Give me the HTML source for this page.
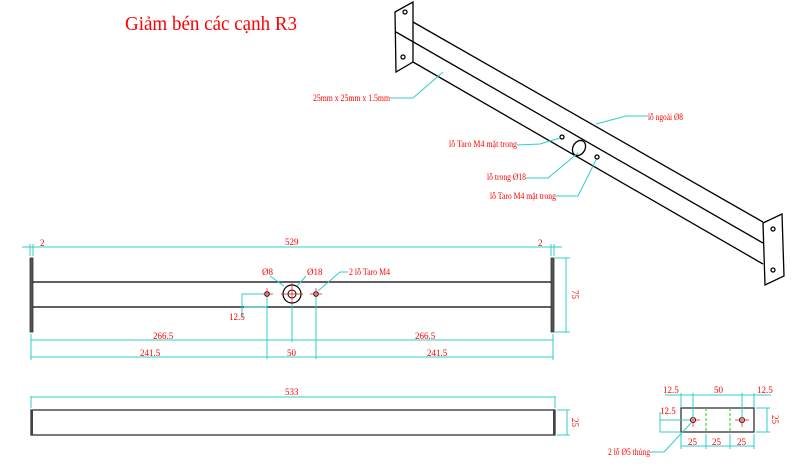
<!DOCTYPE html>
<html><head><meta charset="utf-8"><style>
html,body{margin:0;padding:0;background:#fff;width:800px;height:470px;overflow:hidden}
text{font-family:"Liberation Serif",serif;fill:#f00}
</style></head><body>
<svg width="800" height="470" viewBox="0 0 800 470" xmlns="http://www.w3.org/2000/svg">
<text x="125" y="30" font-size="20" textLength="172" lengthAdjust="spacingAndGlyphs">Giảm bén các cạnh R3</text>
<!-- iso view -->
<g stroke="#000" stroke-width="1.3" fill="none">
<polygon points="395,12 413,2 413,62 396,72" fill="#fff"/>
<line x1="413" y1="22" x2="763" y2="222"/>
<line x1="396" y1="32" x2="763" y2="243"/>
<line x1="413" y1="62" x2="763" y2="264"/>
<polygon points="763,223 782,214 784,276 765,285" fill="#fff"/>
<circle cx="405" cy="12" r="2"/><circle cx="403" cy="57" r="2"/>
<circle cx="773" cy="229" r="2"/><circle cx="773" cy="270" r="2"/>
<circle cx="562" cy="137" r="2"/>
<ellipse cx="579" cy="148" rx="6" ry="8" transform="rotate(30 579 148)"/>
<circle cx="597" cy="157" r="2"/>
</g>
<g stroke="#3cc" stroke-width="1" fill="none">
<polyline points="390,98 413,98 443,72"/>
<polyline points="517,145 540,144 560,138"/>
<polyline points="526,178 548,178 578,153"/>
<polyline points="556,196 578,196 596,160"/>
<polyline points="596,124 626,116 648,116"/>
</g>
<g font-size="9">
<text x="313" y="101" textLength="77" lengthAdjust="spacingAndGlyphs">25mm x 25mm x 1.5mm</text>
<text x="449" y="147" textLength="68" lengthAdjust="spacingAndGlyphs">lỗ Taro M4 mặt trong</text>
<text x="487" y="180" textLength="39" lengthAdjust="spacingAndGlyphs">lỗ trong Ø18</text>
<text x="490" y="199" textLength="66" lengthAdjust="spacingAndGlyphs">lỗ Taro M4 mặt trong</text>
<text x="648" y="120" textLength="35" lengthAdjust="spacingAndGlyphs">lỗ ngoài Ø8</text>
</g>
<!-- front view -->
<g stroke="#000">
<rect x="30" y="258" width="3" height="74" fill="#555" stroke="#333" stroke-width="0.8"/>
<rect x="551" y="258" width="3" height="74" fill="#555" stroke="#333" stroke-width="0.8"/>
<line x1="33" y1="282" x2="551" y2="282" stroke-width="1.2"/>
<line x1="33" y1="307" x2="551" y2="307" stroke-width="1.2"/>
<circle cx="292" cy="294" r="9" fill="none" stroke-width="1.2"/>
<circle cx="292" cy="294" r="4" fill="none" stroke-width="1"/>
<circle cx="267" cy="294" r="2.3" fill="none"/>
<circle cx="316" cy="294" r="2.3" fill="none"/>
</g>
<g stroke="#f00" stroke-width="0.7">
<line x1="281" y1="294" x2="303" y2="294"/><line x1="292" y1="283" x2="292" y2="305"/>
<line x1="261" y1="294" x2="273" y2="294"/><line x1="267" y1="288" x2="267" y2="300"/>
<line x1="310" y1="294" x2="322" y2="294"/><line x1="316" y1="288" x2="316" y2="300"/>
</g>
<g stroke="#3cc" stroke-width="1" fill="none">
<line x1="30" y1="247" x2="554" y2="247"/>
<line x1="22" y1="247" x2="30" y2="247"/><line x1="554" y1="247" x2="562" y2="247"/>
<line x1="30" y1="244" x2="30" y2="256"/><line x1="33" y1="244" x2="33" y2="256"/>
<line x1="551" y1="244" x2="551" y2="256"/><line x1="554" y1="244" x2="554" y2="256"/>
<line x1="555" y1="258" x2="570" y2="258"/><line x1="555" y1="332" x2="570" y2="332"/>
<line x1="566" y1="258" x2="566" y2="332"/>
<line x1="31" y1="334" x2="31" y2="360"/><line x1="553" y1="334" x2="553" y2="360"/>
<line x1="31" y1="340" x2="553" y2="340"/>
<line x1="31" y1="357" x2="553" y2="357"/>
<line x1="292" y1="304" x2="292" y2="342"/>
<line x1="267" y1="297" x2="267" y2="359"/>
<line x1="316" y1="297" x2="316" y2="359"/>
<polyline points="263,294 242,294 242,318"/>
<polyline points="267,307 244,307"/>
<polyline points="284,286 270,276"/>
<polyline points="297,286 306,276"/>
<polyline points="318,291 340,272 348,272"/>
</g>
<g font-size="9">
<text x="40" y="246">2</text>
<text x="285" y="245">529</text>
<text x="538" y="246">2</text>
<text x="262" y="275">Ø8</text>
<text x="307" y="275">Ø18</text>
<text x="349" y="275" textLength="41" lengthAdjust="spacingAndGlyphs">2 lỗ Taro M4</text>
<text x="229" y="320">12.5</text>
<text x="153" y="339">266.5</text>
<text x="415" y="339">266.5</text>
<text x="140" y="356">241.5</text>
<text x="287" y="356">50</text>
<text x="427" y="356">241.5</text>
<text x="0" y="0" transform="translate(572,290) rotate(90)">75</text>
</g>
<!-- bottom bar -->
<rect x="31" y="410" width="524" height="25" fill="none" stroke="#333" stroke-width="1.3"/>
<line x1="32" y1="410" x2="32" y2="435" stroke="#444" stroke-width="2"/>
<line x1="554" y1="410" x2="554" y2="435" stroke="#444" stroke-width="2"/>
<g stroke="#3cc" stroke-width="1" fill="none">
<line x1="31" y1="397" x2="555" y2="397"/>
<line x1="31" y1="396" x2="31" y2="408"/><line x1="555" y1="396" x2="555" y2="408"/>
<line x1="557" y1="410" x2="570" y2="410"/><line x1="557" y1="435" x2="570" y2="435"/>
<line x1="567" y1="410" x2="567" y2="435"/>
</g>
<text x="285" y="395" font-size="9">533</text>
<text x="0" y="0" font-size="9" transform="translate(572,418) rotate(90)">25</text>
<!-- small plate -->
<rect x="681" y="408" width="73" height="24" fill="none" stroke="#333" stroke-width="1.3"/>
<g stroke="#2c2" stroke-width="1" stroke-dasharray="3,2">
<line x1="706" y1="408" x2="706" y2="432"/><line x1="730" y1="408" x2="730" y2="432"/>
</g>
<g stroke="#000" fill="none"><circle cx="693" cy="420" r="2.5"/><circle cx="742" cy="420" r="2.5"/></g>
<g stroke="#f00" stroke-width="0.7">
<line x1="686" y1="420" x2="700" y2="420"/><line x1="693" y1="413" x2="693" y2="427"/>
<line x1="735" y1="420" x2="749" y2="420"/><line x1="742" y1="413" x2="742" y2="427"/>
</g>
<g stroke="#3cc" stroke-width="1" fill="none">
<line x1="665" y1="395" x2="771" y2="395"/>
<line x1="681" y1="393" x2="681" y2="407"/><line x1="693" y1="393" x2="693" y2="418"/>
<line x1="742" y1="393" x2="742" y2="418"/><line x1="754" y1="393" x2="754" y2="407"/>
<line x1="681" y1="434" x2="681" y2="449"/><line x1="706" y1="434" x2="706" y2="449"/>
<line x1="730" y1="434" x2="730" y2="449"/><line x1="754" y1="434" x2="754" y2="449"/>
<line x1="681" y1="446" x2="754" y2="446"/>
<line x1="756" y1="408" x2="770" y2="408"/><line x1="756" y1="432" x2="770" y2="432"/>
<line x1="767" y1="408" x2="767" y2="432"/>
<polyline points="660,420 690,420"/>
<polyline points="660,412 660,432 680,432"/>
<polyline points="650,452 664,452 691,423"/>
</g>
<g font-size="9">
<text x="663" y="393">12.5</text>
<text x="714" y="393">50</text>
<text x="757" y="393">12.5</text>
<text x="660" y="414">12.5</text>
<text x="688" y="445">25</text>
<text x="712" y="445">25</text>
<text x="737" y="445">25</text>
<text x="608" y="455" textLength="42" lengthAdjust="spacingAndGlyphs">2 lỗ Ø5 thủng</text>
<text x="0" y="0" transform="translate(772,415) rotate(90)">25</text>
</g>
</svg>
</body></html>
